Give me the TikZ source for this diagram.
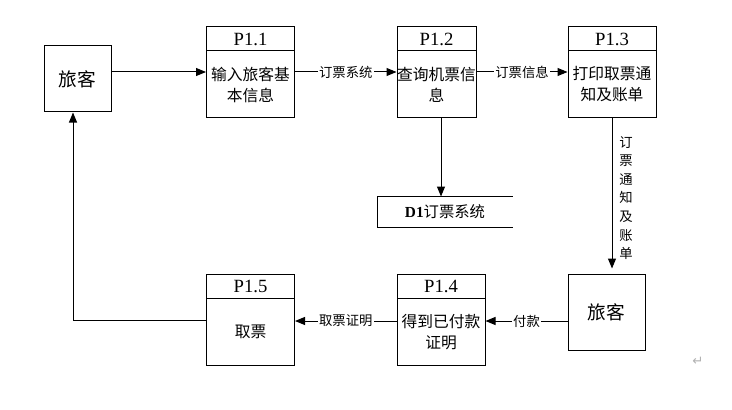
\documentclass[tikz,border=0pt]{standalone}
\usepackage{fontspec}
\setmainfont{Liberation Serif}
\newfontfamily\cjk{Noto Sans CJK SC}
\newfontfamily\symfont{DejaVu Sans}
\usetikzlibrary{arrows.meta}

\tikzset{every picture/.style={line width=0.75pt}}
\tikzset{
  procname/.style={draw, minimum width=66pt, minimum height=18pt, inner sep=0pt, font=\fontsize{14}{16}\selectfont},
  procbody/.style={draw, minimum width=66pt, minimum height=50.25pt, inner sep=0pt, align=center, font=\cjk\fontsize{11.8}{15.75}\selectfont},
  extbox/.style={draw, inner sep=0pt, font=\cjk\fontsize{14}{16}\selectfont},
  flow/.style={-{Triangle[length=7.5pt,width=6pt]}},
  flowlbl/.style={fill=white, inner sep=1pt, font=\cjk\fontsize{10}{12}\selectfont},
  vlbl/.style={inner sep=0pt, align=center, font=\cjk\fontsize{10}{13.9}\selectfont},
}

\begin{document}
\begin{tikzpicture}[x=0.75pt,y=0.75pt,yscale=-1,xscale=1]
        \useasboundingbox (0,0) rectangle (732,410);

        %Shape: Rectangle [external entity, top]
        \node[extbox, minimum width=50.25pt, minimum height=49.5pt] (trav1) at (77.5,79) {旅客};

        %Shape: Process P1.1
        \node[procname] (p11h) at (250.5,39) {P1.1};
        \node[procbody] (p11) at (250.5,84.5) {输入旅客基\\本信息};
        %Shape: Process P1.2
        \node[procname, minimum width=59.25pt] (p12h) at (436.5,39) {P1.2};
        \node[procbody, minimum width=59.25pt] (p12) at (436.5,84.5) {查询机票信\\息};
        %Shape: Process P1.3
        \node[procname] (p13h) at (612,39) {P1.3};
        \node[procbody] (p13) at (612,84.5) {打印取票通\\知及账单};

        %Shape: Data store D1
        \node[inner sep=0pt, minimum width=100.5pt, minimum height=22.5pt, font=\fontsize{11.5}{14}\selectfont] (d1) at (445,212) {\textbf{D1}{\cjk 订票系统}};
        \draw (d1.north east) -- (d1.north west) -- (d1.south west) -- (d1.south east);

        %Shape: Rectangle [external entity, bottom]
        \node[extbox, minimum width=57.75pt, minimum height=57pt] (trav2) at (606.5,312) {旅客};

        %Shape: Process P1.4
        \node[procname] (p14h) at (441,286) {P1.4};
        \node[procbody] (p14) at (441,332) {得到已付款\\证明};
        %Shape: Process P1.5
        \node[procname] (p15h) at (250.5,286) {P1.5};
        \node[procbody] (p15) at (250.5,332) {取票};

        %Straight Lines [flows, top row]
        \draw[flow] (trav1.east |- 0,72) -- (p11.west |- 0,72);
        \draw[flow] (p11.east |- 0,72) -- node[flowlbl] (l1) {订票系统} (p12.west |- 0,72);
        \draw[flow] (p12.east |- 0,72) -- node[flowlbl] (l2) {订票信息} (p13.west |- 0,72);
        %Straight Lines [flows, down]
        \draw[flow] (p12.south -| 441,0) -- (d1.north -| 441,0);
        \draw[flow, shorten >=3.75pt] (p13.south) -- (p13.south |- trav2.north);
        % Text Node
        \node[vlbl] (l3) at (626,198) {订\\票\\通\\知\\及\\账\\单};
        %Straight Lines [flows, bottom row]
        \draw[flow] (trav2.west |- 0,321) -- node[flowlbl] (l4) {付款} (p14.east |- 0,321);
        \draw[flow] (p14.west |- 0,321) -- node[flowlbl] (l5) {取票证明} (p15.east |- 0,321);
        \draw[flow] (p15.west |- 0,320) -| (trav1.south -| 73,0);

        % Text Node
        \node[text=gray!60, inner sep=0pt, font=\symfont\fontsize{10}{12}\selectfont] (ret) at (698,361) {↵};

\end{tikzpicture}
\end{document}
